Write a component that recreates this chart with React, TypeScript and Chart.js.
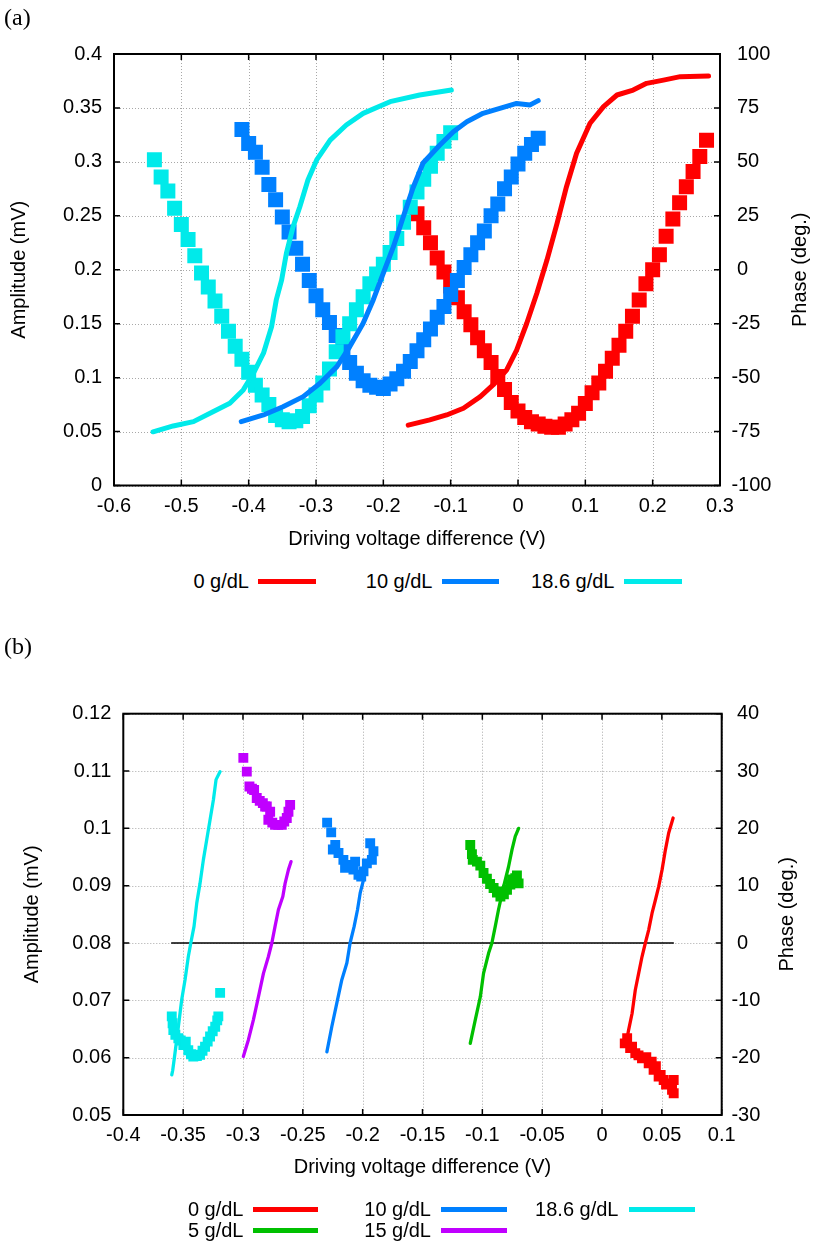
import React, { useEffect, useRef } from 'react';
import { Chart, registerables } from 'chart.js';
Chart.register(...registerables);

const FONT = '"Liberation Sans", Arial, Helvetica, sans-serif';
const RED = '#ff0000';
const BLUE = '#0080ff';
const CYAN = '#00eaea';
const GREEN = '#00c000';
const PURPLE = '#c000ff';

// ---------- panel (a) ----------
const A_X_RANGE = [-0.6, 0.3, 0.1];
const A_AMP_RANGE = [0, 0.4, 0.05];
const A_PH_RANGE = [-100, 100, 25];
const A_LABELS = ['0 g/dL', '10 g/dL', '18.6 g/dL'];
const A_COLORS = [RED, BLUE, CYAN];

const A_RED_AMP_X = [-0.15, -0.14, -0.13, -0.12, -0.11, -0.10, -0.09, -0.08, -0.07, -0.06, -0.05, -0.04, -0.03, -0.02, -0.01, 0.00, 0.01, 0.02, 0.03, 0.04, 0.05, 0.06, 0.07, 0.08, 0.09, 0.10, 0.11, 0.12, 0.13, 0.14, 0.15, 0.16, 0.17, 0.18, 0.19, 0.20, 0.21, 0.22, 0.23, 0.24, 0.25, 0.26, 0.27, 0.28];
const A_RED_AMP_Y = [0.252, 0.239, 0.225, 0.211, 0.198, 0.185, 0.174, 0.161, 0.149, 0.137, 0.125, 0.114, 0.101, 0.089, 0.077, 0.069, 0.063, 0.059, 0.057, 0.055, 0.054, 0.054, 0.057, 0.061, 0.067, 0.076, 0.086, 0.095, 0.106, 0.118, 0.130, 0.143, 0.157, 0.172, 0.187, 0.200, 0.214, 0.231, 0.247, 0.262, 0.277, 0.291, 0.305, 0.320];

const A_BLUE_AMP_X = [-0.41, -0.40, -0.39, -0.38, -0.37, -0.36, -0.35, -0.34, -0.33, -0.32, -0.31, -0.30, -0.29, -0.28, -0.27, -0.26, -0.25, -0.24, -0.23, -0.22, -0.21, -0.20, -0.19, -0.18, -0.17, -0.16, -0.15, -0.14, -0.13, -0.12, -0.11, -0.10, -0.09, -0.08, -0.07, -0.06, -0.05, -0.04, -0.03, -0.02, -0.01, 0.00, 0.01, 0.02, 0.03];
const A_BLUE_AMP_Y = [0.330, 0.317, 0.309, 0.295, 0.279, 0.265, 0.249, 0.235, 0.220, 0.205, 0.190, 0.176, 0.163, 0.151, 0.139, 0.125, 0.114, 0.104, 0.097, 0.093, 0.091, 0.090, 0.094, 0.099, 0.106, 0.115, 0.125, 0.135, 0.145, 0.156, 0.166, 0.177, 0.190, 0.202, 0.214, 0.225, 0.236, 0.250, 0.261, 0.275, 0.286, 0.298, 0.308, 0.316, 0.322];

const A_CYAN_AMP_X = [-0.54, -0.53, -0.52, -0.51, -0.50, -0.49, -0.48, -0.47, -0.46, -0.45, -0.44, -0.43, -0.42, -0.41, -0.40, -0.39, -0.38, -0.37, -0.36, -0.35, -0.34, -0.33, -0.32, -0.31, -0.30, -0.29, -0.28, -0.27, -0.26, -0.25, -0.24, -0.23, -0.22, -0.21, -0.20, -0.19, -0.18, -0.17, -0.16, -0.15, -0.14, -0.13, -0.12, -0.11, -0.10];
const A_CYAN_AMP_Y = [0.302, 0.286, 0.273, 0.257, 0.242, 0.228, 0.213, 0.197, 0.184, 0.171, 0.157, 0.143, 0.129, 0.117, 0.105, 0.093, 0.084, 0.075, 0.065, 0.061, 0.059, 0.060, 0.064, 0.074, 0.084, 0.095, 0.108, 0.124, 0.138, 0.150, 0.163, 0.175, 0.187, 0.196, 0.205, 0.216, 0.229, 0.244, 0.258, 0.272, 0.284, 0.296, 0.308, 0.319, 0.327];

const A_RED_PH_X = [-0.163, -0.131, -0.106, -0.081, -0.056, -0.037, -0.017, -0.002, 0.013, 0.028, 0.043, 0.058, 0.072, 0.087, 0.107, 0.127, 0.147, 0.171, 0.191, 0.216, 0.241, 0.283];
const A_RED_PH_Y = [-72.0, -69.6, -67.3, -64.2, -58.8, -53.4, -46.5, -37.2, -24.8, -10.9, 4.5, 21.5, 38.5, 54.0, 67.9, 75.6, 81.0, 83.3, 86.4, 87.9, 89.5, 89.8];

const A_BLUE_PH_X = [-0.411, -0.378, -0.349, -0.319, -0.294, -0.269, -0.250, -0.230, -0.215, -0.200, -0.185, -0.170, -0.156, -0.141, -0.116, -0.096, -0.076, -0.052, -0.027, -0.002, 0.018, 0.030];
const A_BLUE_PH_Y = [-70.4, -67.3, -63.5, -58.8, -52.6, -44.9, -35.7, -24.8, -14.0, -1.6, 10.7, 24.9, 37.9, 49.5, 57.8, 64.0, 68.6, 72.5, 74.8, 77.1, 76.4, 78.4];

const A_CYAN_PH_X = [-0.542, -0.512, -0.482, -0.453, -0.428, -0.408, -0.393, -0.378, -0.366, -0.359, -0.351, -0.344, -0.334, -0.324, -0.312, -0.299, -0.279, -0.255, -0.230, -0.190, -0.146, -0.099];
const A_CYAN_PH_Y = [-75.1, -72.4, -70.4, -65.8, -61.9, -55.7, -48.0, -38.7, -26.4, -14.0, -4.7, 7.6, 20.0, 29.2, 41.6, 50.9, 60.1, 67.1, 72.5, 77.9, 81.0, 83.3];

// ---------- panel (b) ----------
const B_X_RANGE = [-0.4, 0.1, 0.05];
const B_AMP_RANGE = [0.05, 0.12, 0.01];
const B_PH_RANGE = [-30, 40, 10];
const B_LABELS_ROW1 = ['0 g/dL', '10 g/dL', '18.6 g/dL'];
const B_COLORS_ROW1 = [RED, BLUE, CYAN];
const B_LABELS_ROW2 = ['5 g/dL', '15 g/dL'];
const B_COLORS_ROW2 = [GREEN, PURPLE];

const B_RED_AMP_X = [0.019, 0.021, 0.0235, 0.0251, 0.0278, 0.0305, 0.0334, 0.037, 0.039, 0.0415, 0.0431, 0.045, 0.0473, 0.049, 0.0515, 0.0535, 0.0557, 0.0585, 0.0599, 0.0599];
const B_RED_AMP_Y = [0.0625, 0.0634, 0.0617, 0.0619, 0.0608, 0.0604, 0.0599, 0.0601, 0.0590, 0.0593, 0.0579, 0.0585, 0.0567, 0.0570, 0.0561, 0.0553, 0.0555, 0.0544, 0.0538, 0.0561];
const B_RED_PH_X = [0.021, 0.0222, 0.0251, 0.0278, 0.0306, 0.0334, 0.0362, 0.039, 0.0418, 0.0446, 0.0473, 0.0502, 0.053, 0.0557, 0.0594];
const B_RED_PH_Y = [-16.5, -15.2, -12.3, -8.2, -5.3, -2.4, 0.0, 2.3, 5.2, 7.5, 9.8, 12.8, 16.3, 19.2, 21.8];

const B_GREEN_AMP_X = [-0.1101, -0.1087, -0.108, -0.1045, -0.1017, -0.099, -0.0962, -0.0935, -0.0906, -0.0878, -0.0849, -0.0835, -0.082, -0.0794, -0.0766, -0.0752, -0.0725, -0.0711, -0.0697];
const B_GREEN_AMP_Y = [0.0971, 0.0955, 0.0945, 0.0942, 0.0935, 0.0922, 0.0912, 0.0903, 0.0896, 0.0888, 0.0881, 0.0890, 0.0885, 0.0893, 0.0902, 0.0911, 0.0913, 0.0918, 0.0904];
const B_GREEN_PH_X = [-0.1101, -0.1059, -0.1017, -0.099, -0.0948, -0.092, -0.0892, -0.0865, -0.0823, -0.0781, -0.0752, -0.0725, -0.0697];
const B_GREEN_PH_Y = [-17.5, -13.4, -9.4, -5.3, -1.8, 0.0, 2.9, 5.8, 9.8, 13.3, 16.3, 18.6, 20.0];

const B_BLUE_AMP_X = [-0.2297, -0.2263, -0.2249, -0.2229, -0.2202, -0.2161, -0.2147, -0.2119, -0.2077, -0.2063, -0.2035, -0.2012, -0.1993, -0.1965, -0.1937, -0.1923, -0.191];
const B_BLUE_AMP_Y = [0.1010, 0.0993, 0.0963, 0.0971, 0.0957, 0.0945, 0.0931, 0.0936, 0.0928, 0.0942, 0.0919, 0.0916, 0.0925, 0.0939, 0.0974, 0.0945, 0.0960];
const B_BLUE_PH_X = [-0.2299, -0.2258, -0.2216, -0.2174, -0.2132, -0.2105, -0.2071, -0.2043, -0.2021, -0.1993, -0.198, -0.1971];
const B_BLUE_PH_Y = [-19.0, -14.6, -10.5, -6.4, -3.5, 0.0, 2.9, 5.8, 8.7, 11.0, 12.2, 13.5];

const B_PURPLE_AMP_X = [-0.2997, -0.2968, -0.2946, -0.2925, -0.2907, -0.2885, -0.286, -0.2834, -0.2815, -0.2801, -0.2788, -0.2773, -0.2755, -0.2732, -0.2705, -0.2676, -0.2655, -0.2634, -0.262, -0.2606];
const B_PURPLE_AMP_Y = [0.1123, 0.1099, 0.1073, 0.1069, 0.1067, 0.1053, 0.1048, 0.1044, 0.1038, 0.1038, 0.1015, 0.1029, 0.1010, 0.1006, 0.1006, 0.1006, 0.1012, 0.1018, 0.1029, 0.1041];
const B_PURPLE_PH_X = [-0.2997, -0.2955, -0.2913, -0.2871, -0.2829, -0.2788, -0.2759, -0.2732, -0.2704, -0.2667, -0.2648, -0.262, -0.2598];
const B_PURPLE_PH_Y = [-19.8, -16.9, -13.4, -9.4, -5.3, -2.4, 0.0, 2.9, 5.8, 8.1, 10.4, 12.8, 14.2];

const B_CYAN_AMP_X = [-0.3595, -0.3588, -0.3582, -0.3565, -0.354, -0.352, -0.3498, -0.3478, -0.3457, -0.3435, -0.3415, -0.3385, -0.3359, -0.3338, -0.3317, -0.3295, -0.3275, -0.3253, -0.3232, -0.3215, -0.3206, -0.3191];
const B_CYAN_AMP_Y = [0.0672, 0.0660, 0.0648, 0.0640, 0.0634, 0.0630, 0.0622, 0.0628, 0.0613, 0.0606, 0.0602, 0.0603, 0.0605, 0.0612, 0.0619, 0.0628, 0.0637, 0.0646, 0.0654, 0.0665, 0.0672, 0.0713];
const B_CYAN_PH_X = [-0.3595, -0.3587, -0.3568, -0.354, -0.3512, -0.3484, -0.3457, -0.3436, -0.3409, -0.3386, -0.3359, -0.3331, -0.3303, -0.3275, -0.3247, -0.3225, -0.3191];
const B_CYAN_PH_Y = [-23.0, -22.2, -19.2, -14.6, -9.9, -6.4, -2.4, 0.0, 2.9, 7.0, 10.4, 14.5, 18.0, 21.5, 25.0, 28.5, 29.9];

const B_ZERO_X = [-0.36, 0.06];
const B_ZERO_Y = [0, 0];

// ---------- helpers ----------
const fmt = (v: number) => String(parseFloat(Number(v).toFixed(4)));
const pts = (xs: number[], ys: number[]) => xs.map((x, i) => ({ x, y: ys[i] }));

function squares(xs: number[], ys: number[], color: string, r: number) {
  return {
    data: pts(xs, ys), yAxisID: 'y', showLine: false,
    pointStyle: 'rect', pointRadius: r, pointHoverRadius: r,
    pointBackgroundColor: color, pointBorderWidth: 0, backgroundColor: color, borderColor: color,
  };
}
function line(xs: number[], ys: number[], color: string, w: number) {
  return {
    data: pts(xs, ys), yAxisID: 'y2', showLine: true, pointRadius: 0, pointHoverRadius: 0,
    borderColor: color, backgroundColor: color, borderWidth: w, tension: 0, fill: false,
    borderJoinStyle: 'round', borderCapStyle: 'round',
  };
}

function framePlugin(o: { negX: number; posX: number; titleX: number; title: string }) {
  return {
    id: 'frame',
    beforeDatasetsDraw(chart: any) {
      const { ctx, chartArea: ca, scales } = chart;
      ctx.save();
      ctx.strokeStyle = '#a8a8a8';
      ctx.lineWidth = 1;
      ctx.setLineDash([1, 2]);
      scales.x.ticks.forEach((t: any) => {
        const p = Math.round(scales.x.getPixelForValue(t.value)) + 0.5;
        ctx.beginPath(); ctx.moveTo(p, ca.top); ctx.lineTo(p, ca.bottom); ctx.stroke();
      });
      scales.y.ticks.forEach((t: any) => {
        const p = Math.round(scales.y.getPixelForValue(t.value)) + 0.5;
        ctx.beginPath(); ctx.moveTo(ca.left, p); ctx.lineTo(ca.right, p); ctx.stroke();
      });
      ctx.restore();
    },
    afterDatasetsDraw(chart: any) {
      const { ctx, chartArea: ca, scales } = chart;
      const TL = 6;
      ctx.save();
      ctx.strokeStyle = '#000';
      ctx.lineWidth = 1.5;
      ctx.beginPath();
      scales.x.ticks.forEach((t: any) => {
        const p = scales.x.getPixelForValue(t.value);
        ctx.moveTo(p, ca.bottom); ctx.lineTo(p, ca.bottom - TL);
        ctx.moveTo(p, ca.top); ctx.lineTo(p, ca.top + TL);
      });
      scales.y.ticks.forEach((t: any) => {
        const p = scales.y.getPixelForValue(t.value);
        ctx.moveTo(ca.left, p); ctx.lineTo(ca.left + TL, p);
      });
      scales.y2.ticks.forEach((t: any) => {
        const p = scales.y2.getPixelForValue(t.value);
        ctx.moveTo(ca.right, p); ctx.lineTo(ca.right - TL, p);
      });
      ctx.stroke();
      ctx.lineWidth = 2;
      ctx.strokeRect(ca.left, ca.top, ca.right - ca.left, ca.bottom - ca.top);
      ctx.fillStyle = '#000';
      ctx.font = `20px ${FONT}`;
      ctx.textAlign = 'left';
      ctx.textBaseline = 'middle';
      scales.y2.ticks.forEach((t: any) => {
        ctx.fillText(fmt(t.value), t.value < 0 ? o.negX : o.posX, scales.y2.getPixelForValue(t.value));
      });
      ctx.translate(o.titleX, (ca.top + ca.bottom) / 2);
      ctx.rotate(-Math.PI / 2);
      ctx.textAlign = 'center';
      ctx.fillText(o.title, 0, 0);
      ctx.restore();
    },
  };
}

function makeConfig(p: {
  datasets: any[]; xr: number[]; yr: number[]; y2r: number[];
  padTop: number; leftW: number; rightW: number; xH: number;
  xTickPad: number; yTickPad: number; xTitlePadB: number; yTitlePadT: number;
  y2TitleX: number;
}) {
  const font = { family: FONT, size: 20 };
  const n = p.datasets.length;
  p.datasets.forEach((d, i) => { d.order = n - i; });
  return {
    type: 'scatter',
    data: { datasets: p.datasets },
    options: {
      responsive: false, animation: false, devicePixelRatio: 1, events: [],
      layout: { padding: { top: p.padTop, left: 0, right: 0, bottom: 0 } },
      plugins: { legend: { display: false }, tooltip: { enabled: false } },
      scales: {
        x: {
          type: 'linear', position: 'bottom', min: p.xr[0], max: p.xr[1],
          ticks: { stepSize: p.xr[2], padding: p.xTickPad, font, color: '#000', maxRotation: 0, autoSkip: false, callback: (v: any) => fmt(v) },
          grid: { display: false, drawTicks: false }, border: { display: false },
          title: { display: true, text: 'Driving voltage difference (V)', font, color: '#000', padding: { top: 0, bottom: p.xTitlePadB } },
          afterFit: (s: any) => { s.height = p.xH; },
        },
        y: {
          type: 'linear', position: 'left', min: p.yr[0], max: p.yr[1],
          ticks: { stepSize: p.yr[2], padding: p.yTickPad, font, color: '#000', autoSkip: false, callback: (v: any) => fmt(v) },
          grid: { display: false, drawTicks: false }, border: { display: false },
          title: { display: true, text: 'Amplitude (mV)', font, color: '#000', padding: { top: p.yTitlePadT, bottom: 0 } },
          afterFit: (s: any) => { s.width = p.leftW; },
        },
        y2: {
          type: 'linear', position: 'right', min: p.y2r[0], max: p.y2r[1],
          ticks: { stepSize: p.y2r[2], display: false },
          grid: { display: false, drawTicks: false }, border: { display: false },
          afterFit: (s: any) => { s.width = p.rightW; },
        },
      },
    },
    plugins: [framePlugin({ negX: 731.4, posX: 737, titleX: p.y2TitleX, title: 'Phase (deg.)' })],
  };
}

function LegendEntry(props: { label: string; color: string; textRight: number; x1: number; x2: number; y: number; th: number }) {
  const { label, color, textRight, x1, x2, y, th } = props;
  return (
    <>
      <div style={{ position: 'absolute', left: textRight - 200, width: 200, top: y - 12, height: 24, lineHeight: '24px', textAlign: 'right', font: `20px ${FONT}`, color: '#000', whiteSpace: 'nowrap' }}>{label}</div>
      <div style={{ position: 'absolute', left: x1, width: x2 - x1, top: y - th / 2, height: th, background: color }} />
    </>
  );
}

export default function App() {
  const refA = useRef<HTMLCanvasElement>(null);
  const refB = useRef<HTMLCanvasElement>(null);

  useEffect(() => {
    const cfgA: any = makeConfig({
      datasets: [
        squares(A_RED_AMP_X, A_RED_AMP_Y, RED, 10.6),
        squares(A_BLUE_AMP_X, A_BLUE_AMP_Y, BLUE, 10.6),
        squares(A_CYAN_AMP_X, A_CYAN_AMP_Y, CYAN, 10.6),
        line(A_RED_PH_X, A_RED_PH_Y, RED, 5),
        line(A_BLUE_PH_X, A_BLUE_PH_Y, BLUE, 5),
        line(A_CYAN_PH_X, A_CYAN_PH_Y, CYAN, 5),
      ],
      xr: A_X_RANGE, yr: A_AMP_RANGE, y2r: A_PH_RANGE,
      padTop: 54, leftW: 114, rightW: 93, xH: 74.5,
      xTickPad: 9, yTickPad: 12, xTitlePadB: 9, yTitlePadT: 7.5, y2TitleX: 800,
    });
    const zero: any = line(B_ZERO_X, B_ZERO_Y, '#000', 1.5);
    zero.borderCapStyle = 'butt';
    const cfgB: any = makeConfig({
      datasets: [
        zero,
        squares(B_RED_AMP_X, B_RED_AMP_Y, RED, 7),
        squares(B_GREEN_AMP_X, B_GREEN_AMP_Y, GREEN, 7),
        squares(B_BLUE_AMP_X, B_BLUE_AMP_Y, BLUE, 7),
        squares(B_PURPLE_AMP_X, B_PURPLE_AMP_Y, PURPLE, 7),
        squares(B_CYAN_AMP_X, B_CYAN_AMP_Y, CYAN, 7),
        line(B_RED_PH_X, B_RED_PH_Y, RED, 3.3),
        line(B_GREEN_PH_X, B_GREEN_PH_Y, GREEN, 3.3),
        line(B_BLUE_PH_X, B_BLUE_PH_Y, BLUE, 3.3),
        line(B_PURPLE_PH_X, B_PURPLE_PH_Y, PURPLE, 3.3),
        line(B_CYAN_PH_X, B_CYAN_PH_Y, CYAN, 3.3),
      ],
      xr: B_X_RANGE, yr: B_AMP_RANGE, y2r: B_PH_RANGE,
      padTop: 93.7, leftW: 123.3, rightW: 91.3, xH: 85,
      xTickPad: 8.5, yTickPad: 12, xTitlePadB: 21, yTitlePadT: 20.5, y2TitleX: 787,
    });
    const a = new Chart(refA.current as HTMLCanvasElement, cfgA);
    const b = new Chart(refB.current as HTMLCanvasElement, cfgB);
    return () => { a.destroy(); b.destroy(); };
  }, []);

  return (
    <div style={{ position: 'absolute', left: 0, top: 0, width: 813, height: 1244, background: '#fff', overflow: 'hidden' }}>
      <canvas ref={refA} width={813} height={560} style={{ position: 'absolute', left: 0, top: 0, width: 813, height: 560 }} />
      <canvas ref={refB} width={813} height={580} style={{ position: 'absolute', left: 0, top: 620, width: 813, height: 580 }} />
      <div style={{ position: 'absolute', left: 4, top: 5, font: '24px "Liberation Serif", "Times New Roman", serif', lineHeight: '24px' }}>(a)</div>
      <div style={{ position: 'absolute', left: 4, top: 634, font: '24px "Liberation Serif", "Times New Roman", serif', lineHeight: '24px' }}>(b)</div>
      <LegendEntry label={A_LABELS[0]} color={A_COLORS[0]} textRight={249} x1={258} x2={316} y={581.5} th={5} />
      <LegendEntry label={A_LABELS[1]} color={A_COLORS[1]} textRight={432.5} x1={442} x2={499} y={581.5} th={5} />
      <LegendEntry label={A_LABELS[2]} color={A_COLORS[2]} textRight={614.5} x1={624} x2={682} y={581.5} th={5} />
      <LegendEntry label={B_LABELS_ROW1[0]} color={B_COLORS_ROW1[0]} textRight={243.5} x1={253} x2={318} y={1209.5} th={4.5} />
      <LegendEntry label={B_LABELS_ROW1[1]} color={B_COLORS_ROW1[1]} textRight={431} x1={441} x2={507} y={1209.5} th={4.5} />
      <LegendEntry label={B_LABELS_ROW1[2]} color={B_COLORS_ROW1[2]} textRight={618.5} x1={629} x2={695} y={1209.5} th={4.5} />
      <LegendEntry label={B_LABELS_ROW2[0]} color={B_COLORS_ROW2[0]} textRight={243.5} x1={253} x2={318} y={1230.7} th={4.5} />
      <LegendEntry label={B_LABELS_ROW2[1]} color={B_COLORS_ROW2[1]} textRight={431} x1={441} x2={507} y={1230.7} th={4.5} />
    </div>
  );
}
